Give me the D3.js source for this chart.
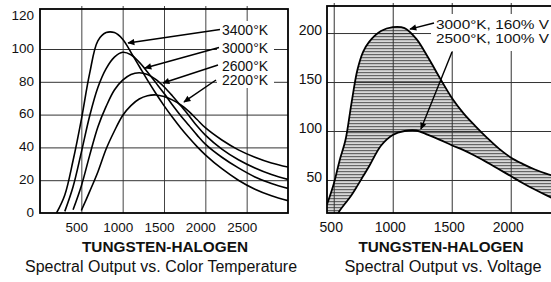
<!DOCTYPE html>
<html><head><meta charset="utf-8">
<script src="https://cdn.jsdelivr.net/npm/d3@7"></script>
<style>
body{margin:0;background:#fff}
svg{display:block}
text{font-family:"Liberation Sans",Arial,Helvetica,sans-serif;fill:#111}
</style></head>
<body><svg id="c" width="551" height="282"></svg>
<script>
// ---------- Left chart: Spectral Output vs. Color Temperature ----------
const wavelengthsL = [200,300,400,500,600,700,800,900,1000,1100,1200,1300,1400,1500,1600,1700,1800,1900,2000,2200,2400,2600,2800,3000];
const k3400 = [0,11,32,57,85,105,110,110,106,98,89.5,81,73,65.5,58.5,52,46,40.5,35.5,27,20,14.5,10.5,7.5];
const k3000 = [null,1,16,37,59,76.5,88,95,98,96.5,92,86,79.5,73,66,59.5,53.5,47.5,42,34,27.5,22,18,15];
const k2600 = [null,null,2,16.5,35,52.5,65,75,81,84.5,85.5,84.5,81.5,77,71.5,65.5,59.5,53,47.5,39,32.5,27.5,23.5,20.5];
const k2200 = [null,null,null,1.5,13,25,39,50,59.5,65.5,69.5,71.5,72,71,69,66,62,57,52,44.5,38.5,34,30.5,28];
const seriesNamesL = ["3400°K","3000°K","2600°K","2200°K"];
const xTicksL = [500,1000,1500,2000,2500];
const yTicksL = [0,20,40,60,80,100,120];
const yGridL = [20,40,60,80,100];
// arrow tips (wavelength, relative output) for the four labels
const tipNmL = [1065,1270,1488,1742];
const tipValL = [103.7,88.4,79.3,67.7];

// ---------- Right chart: Spectral Output vs. Voltage ----------
const wavelengthsR = [443,500,550,600,650,700,750,800,900,1000,1100,1200,1300,1400,1500,1600,1700,1800,1900,2000,2100,2200,2300,2400,2500];
const v160 = [25,46,70,91,128,162,181,191,202,206,205,194,175,154,134,118,105,93,82,73,66.5,61,56.5,53,50];
const v100 = [0,8,18.5,26.5,34.5,44,54,64,85,96,100,100.5,96,91,85.5,80.5,74.5,68,61,54,47,40.5,34.5,29,24];
const seriesNamesR = ["3000°K, 160% V","2500°K, 100% V"];
const xTicksR = [500,1000,1500,2000];
const yTicksR = [50,100,150,200];
const tipNmR = [1146,1239];
const tipValR = [204,102];

const titleMain = "TUNGSTEN-HALOGEN";
const subL = "Spectral Output vs. Color Temperature";
const subR = "Spectral Output vs. Voltage";

const svg = d3.select("#c");
svg.append("rect").attr("width",551).attr("height",282).attr("fill","#fff");
const defs = svg.append("defs");
const pat = defs.append("pattern").attr("id","hatch").attr("patternUnits","userSpaceOnUse").attr("width",6).attr("height",3);
pat.append("rect").attr("width",6).attr("height",3).attr("fill","#d8d8d8");
pat.append("rect").attr("width",6).attr("height",1.2).attr("fill","#666");
defs.append("marker").attr("id","arr").attr("viewBox","0 0 10 10").attr("refX",9).attr("refY",5)
  .attr("markerWidth",8).attr("markerHeight",7).attr("markerUnits","userSpaceOnUse").attr("orient","auto")
  .append("path").attr("d","M0,0.5L10,5L0,9.5Z").attr("fill","#000");

function styleTicks(g, size){
  g.select(".domain").remove();
  g.selectAll("text").attr("font-size",size).attr("fill","#111");
}
const smooth = d3.curveCatmullRom.alpha(0.5);

// ===== LEFT =====
const xL = d3.scaleLinear().domain([0,3000]).range([40,288]);
const yL = d3.scaleLinear().domain([0,124.4]).range([213,9]);
defs.append("clipPath").attr("id","clipL").append("rect")
  .attr("x",xL(0)).attr("y",yL(124.4)).attr("width",xL(3000)-xL(0)).attr("height",yL(0)-yL(124.4));

const gL = svg.append("g");
gL.append("g").attr("transform",`translate(0,${yL(0)})`)
  .call(d3.axisBottom(xL).tickValues(xTicksL).tickSize(-(yL(0)-yL(124.4)+3)).tickFormat(""))
  .call(g=>{g.select(".domain").remove();g.selectAll("line").attr("stroke","#444").attr("stroke-width",1);});
gL.append("g").attr("transform",`translate(${xL(0)},0)`)
  .call(d3.axisLeft(yL).tickValues(yGridL).tickSize(-(xL(3000)-xL(0))).tickFormat(""))
  .call(g=>{g.select(".domain").remove();g.selectAll("line").attr("stroke","#333").attr("stroke-width",1);});

svg.append("rect").attr("x",217).attr("y",21).attr("width",57).attr("height",67).attr("fill","#fff");

const lineL = d3.line().defined(d=>d[1]!==null).x(d=>xL(d[0])).y(d=>yL(d[1])).curve(smooth);
const curvesL = [k3400,k3000,k2600,k2200];
svg.append("g").attr("clip-path","url(#clipL)").selectAll("path").data(curvesL).join("path")
  .attr("d",vals=>lineL(wavelengthsL.map((w,i)=>[w,vals[i]])))
  .attr("fill","none").attr("stroke","#000").attr("stroke-width",1.6);

svg.append("rect").attr("x",xL(0)).attr("y",yL(124.4)).attr("width",xL(3000)-xL(0)).attr("height",yL(0)-yL(124.4))
  .attr("fill","none").attr("stroke","#000").attr("stroke-width",1.8);

svg.append("g").attr("transform",`translate(0,${yL(0)})`)
  .call(d3.axisBottom(xL).tickValues(xTicksL).tickSize(0).tickFormat(d3.format("d")))
  .call(g=>{styleTicks(g,"13.5px");g.selectAll("text").attr("y",18.5).attr("dy",0).attr("dx",-5);});
svg.append("g").attr("transform",`translate(${xL(0)},0)`)
  .call(d3.axisLeft(yL).tickValues(yTicksL).tickSize(0).tickPadding(6).tickFormat(d3.format("d")))
  .call(g=>{styleTicks(g,"13.5px");g.selectAll("text").attr("dy","0.36em").attr("y",-1.5);});

const labYL = [34.5,53,70.5,85];
const tailL = [[220,29.5],[219,47.5],[218,65],[216,80]];
svg.append("g").selectAll("text").data(seriesNamesL).join("text")
  .attr("x",222).attr("y",(d,i)=>labYL[i]).attr("font-size","14px").text(d=>d);
svg.append("g").selectAll("line").data(seriesNamesL).join("line")
  .attr("x1",(d,i)=>tailL[i][0]).attr("y1",(d,i)=>tailL[i][1])
  .attr("x2",(d,i)=>xL(tipNmL[i])).attr("y2",(d,i)=>yL(tipValL[i]))
  .attr("stroke","#000").attr("stroke-width",1.5).attr("marker-end","url(#arr)");

svg.append("text").attr("x",165).attr("y",251.7).attr("text-anchor","middle").attr("font-weight","bold")
  .attr("font-size","15px").attr("textLength",166).attr("lengthAdjust","spacingAndGlyphs").text(titleMain);
svg.append("text").attr("x",161).attr("y",271.5).attr("text-anchor","middle")
  .attr("font-size","16px").attr("textLength",272).attr("lengthAdjust","spacingAndGlyphs").text(subL);

// ===== RIGHT =====
const xR = d3.scaleLinear().domain([443,2500]).range([327,327+2057*0.118]);
const yR = d3.scaleLinear().domain([16.3,227.6]).range([213,6]);
defs.append("clipPath").attr("id","clipR").append("rect")
  .attr("x",xR(443)).attr("y",yR(227.6)).attr("width",xR(2500)-xR(443)).attr("height",yR(16.3)-yR(227.6));

const gR = svg.append("g");
const areaR = d3.area().x(d=>xR(d[0])).y0(d=>yR(d[1])).y1(d=>yR(d[2])).curve(smooth);
gR.append("path").attr("clip-path","url(#clipR)")
  .attr("d",areaR(wavelengthsR.map((w,i)=>[w,v100[i],v160[i]])))
  .attr("fill","url(#hatch)");
gR.append("g").attr("transform",`translate(0,${yR(16.3)})`)
  .call(d3.axisBottom(xR).tickValues(xTicksR).tickSize(-(yR(16.3)-yR(227.6)+3)).tickFormat(""))
  .call(g=>{g.select(".domain").remove();g.selectAll("line").attr("stroke","#333").attr("stroke-width",1);});
gR.append("g").attr("transform",`translate(${xR(443)},0)`)
  .call(d3.axisLeft(yR).tickValues(yTicksR).tickSize(-(xR(2500)-xR(443))).tickFormat(""))
  .call(g=>{g.select(".domain").remove();g.selectAll("line").attr("stroke","#333").attr("stroke-width",1);});

svg.append("rect").attr("x",431).attr("y",14).attr("width",125).attr("height",37).attr("fill","#fff");

const lineR = d3.line().x(d=>xR(d[0])).y(d=>yR(d[1])).curve(smooth);
svg.append("g").attr("clip-path","url(#clipR)").selectAll("path").data([v160,v100]).join("path")
  .attr("d",vals=>lineR(wavelengthsR.map((w,i)=>[w,vals[i]])))
  .attr("fill","none").attr("stroke","#000").attr("stroke-width",1.8);

svg.append("rect").attr("x",xR(443)).attr("y",yR(227.6)).attr("width",xR(2500)-xR(443)).attr("height",yR(16.3)-yR(227.6))
  .attr("fill","none").attr("stroke","#000").attr("stroke-width",1.8);

svg.append("g").attr("transform",`translate(0,${yR(16.3)})`)
  .call(d3.axisBottom(xR).tickValues(xTicksR).tickSize(0).tickFormat(d3.format("d")))
  .call(g=>{styleTicks(g,"14px");g.selectAll("text").attr("y",18.5).attr("dy",0).attr("dx",-3);});
svg.append("g").attr("transform",`translate(${xR(443)},0)`)
  .call(d3.axisLeft(yR).tickValues(yTicksR).tickSize(0).tickPadding(5).tickFormat(d3.format("d")))
  .call(g=>{styleTicks(g,"14px");g.selectAll("text").attr("dy","0.36em").attr("y",-3.5);});

const labYR = [28.5,42.5];
const tailR = [[434,23],[452,52]];
svg.append("g").selectAll("text").data(seriesNamesR).join("text")
  .attr("x",436).attr("y",(d,i)=>labYR[i]).attr("font-size","13px")
  .attr("textLength",113).attr("lengthAdjust","spacingAndGlyphs").text(d=>d);
svg.append("g").selectAll("line").data(seriesNamesR).join("line")
  .attr("x1",(d,i)=>tailR[i][0]).attr("y1",(d,i)=>tailR[i][1])
  .attr("x2",(d,i)=>xR(tipNmR[i])).attr("y2",(d,i)=>yR(tipValR[i]))
  .attr("stroke","#000").attr("stroke-width",1.4).attr("marker-end","url(#arr)");

svg.append("text").attr("x",441).attr("y",251.7).attr("text-anchor","middle").attr("font-weight","bold")
  .attr("font-size","15px").attr("textLength",165).attr("lengthAdjust","spacingAndGlyphs").text(titleMain);
svg.append("text").attr("x",443).attr("y",271.5).attr("text-anchor","middle")
  .attr("font-size","16px").attr("textLength",197).attr("lengthAdjust","spacingAndGlyphs").text(subR);
</script></body></html>
